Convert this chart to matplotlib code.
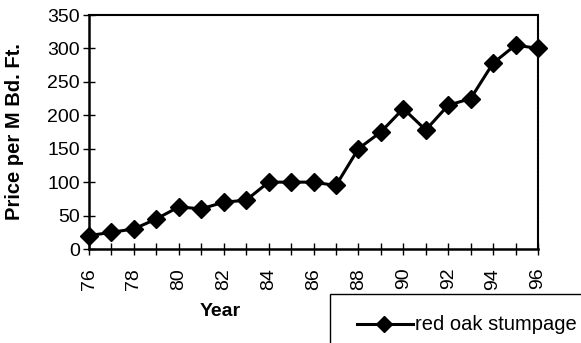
import matplotlib
matplotlib.use("Agg")
import matplotlib.pyplot as plt
from matplotlib.patches import Rectangle
from matplotlib.lines import Line2D

years = list(range(76, 97))
prices = [20, 25, 30, 45, 63, 60, 70, 73, 100, 100, 100, 95, 150, 175, 210, 178, 215, 225, 278, 305, 300]
series_name = "red oak stumpage"

plt.rcParams['font.family'] = ['Liberation Sans', 'DejaVu Sans']

fig = plt.figure(figsize=(5.81, 3.43), dpi=100)
ax = fig.add_axes([89/581, 1-249/343, (538-89)/581, (249-15)/343])
ax.plot(years, prices, color='black', lw=2.2, marker='D', ms=9, mfc='black', mec='black', clip_on=False, zorder=5)
ax.set_xlim(76, 96)
ax.set_ylim(0, 350)
ax.set_xticks(years)
ax.set_xticklabels([str(y) if (y % 2 == 0) else '' for y in years], rotation=90, fontsize=14)
ax.set_yticks(range(0, 351, 50))
ax.tick_params(axis='both', direction='inout', length=9, width=1, labelsize=14, color='black')
ax.tick_params(axis='x', pad=9)
ax.tick_params(axis='y', pad=2)
for s in ['left', 'bottom']:
    ax.spines[s].set_linewidth(1.8)
for s in ['top', 'right']:
    ax.spines[s].set_linewidth(1.5)
    ax.spines[s].set_linestyle((0, (1, 0.7)))
fig.text(220/581, 1-311/343, 'Year', fontweight='bold', fontsize=14, ha='center', va='center')
fig.text(15/581, 1-132/343, 'Price per M Bd. Ft.', fontweight='bold', fontsize=14.5,
         ha='center', va='center', rotation=90)

# legend box extending past figure edges
rect = Rectangle((330/581, -0.1), 0.5, 1-294/343 + 0.1, transform=fig.transFigure,
                 fill=False, edgecolor='black', lw=1, clip_on=False)
fig.patches.append(rect)
ly = 1 - 324/343
fig.lines.append(Line2D([357/581, 413/581], [ly, ly], transform=fig.transFigure, color='black', lw=2.2))
fig.lines.append(Line2D([384/581], [ly], transform=fig.transFigure, color='black', marker='D', ms=8, lw=0))
fig.text(415/581, ly, series_name, fontsize=14.5, va='center', ha='left')

fig.savefig('out.png', dpi=100)
